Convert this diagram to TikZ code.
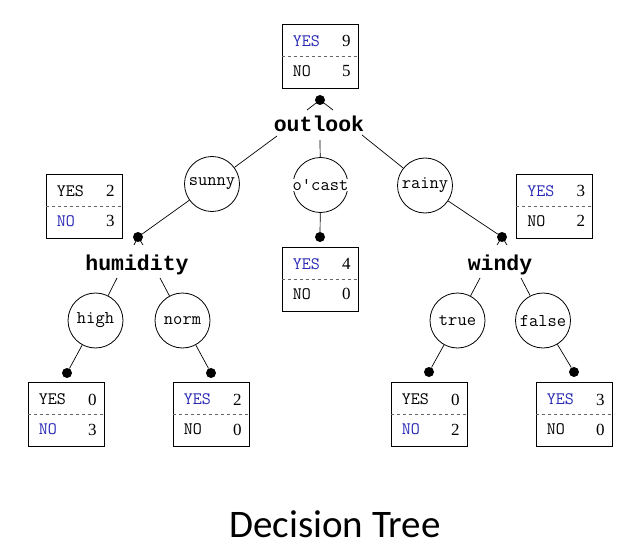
\documentclass[tikz,border=0pt]{standalone}
\usepackage{fontspec}
\setmainfont{Liberation Serif}
\newfontfamily\numfont{Liberation Serif}
\newfontfamily\titlefont{Carlito}
\newfontfamily\attrfont{Liberation Mono}
\usetikzlibrary{calc}
\definecolor{yesblue}{RGB}{40,40,180}
\tikzset{
 leaf/.style={draw, line width=0.8pt, minimum width=76pt, minimum height=64pt, inner sep=0},
 divider/.style={dashed, black!60, line width=0.6pt},
 rowtext/.style={font=\ttfamily\fontsize{17.5}{18}\selectfont, inner sep=0, anchor=west},
 numtext/.style={font=\numfont\fontsize{17}{18}\selectfont, inner sep=0},
 cnode/.style={draw, circle, minimum size=55pt, inner sep=0, line width=0.8pt},
 clabel/.style={font=\ttfamily\fontsize{18}{19}\selectfont, fill=white, inner sep=0.5pt},
 attr/.style={font=\attrfont\bfseries\fontsize{21.5}{22}\selectfont, inner sep=0, anchor=base},
 dotn/.style={circle, fill=black, minimum size=10pt, inner sep=0},
 edge/.style={line width=0.7pt},
}
\newcommand\leafbox[7]{%
 \node[leaf] (#1) at (#2,#3) {};
 \draw[divider] (#1.west) -- (#1.east);
 \node[rowtext, text=#4] (#1-yes) at ($(#1.west)+(11,-15)$) {YES};
 \node[numtext] (#1-yn) at ($(#1.east)+(-12,-15)$) {#5};
 \node[rowtext, text=#6] (#1-no) at ($(#1.west)+(11,15)$) {NO};
 \node[numtext] (#1-nn) at ($(#1.east)+(-12,15)$) {#7};
}
\begin{document}
\begin{tikzpicture}[x=1pt, y=-1pt]
\useasboundingbox (0,0) rectangle (642,556);
% leaf boxes
\leafbox{top}{320}{56}{yesblue}{9}{black}{5}
\leafbox{lsun}{84}{206}{black}{2}{yesblue}{3}
\leafbox{loc}{320}{279}{yesblue}{4}{black}{0}
\leafbox{lrain}{554.5}{206}{yesblue}{3}{black}{2}
\leafbox{lhigh}{66}{414.5}{black}{0}{yesblue}{3}
\leafbox{lnorm}{211}{414.5}{yesblue}{2}{black}{0}
\leafbox{ltrue}{429}{414.5}{black}{0}{yesblue}{2}
\leafbox{lfalse}{574}{414.5}{yesblue}{3}{black}{0}
% attribute names
\node[attr] (outlook) at (319,132) {outlook};
\node[attr] (humidity) at (137,270) {humidity};
\node[attr] (windy) at (500,270) {windy};
% value circles
\node[cnode] (sunny) at (212,184) {};
\node[clabel] at (sunny) {sunny};
\node[cnode] (ocast) at (320.5,185) {};
\node[clabel] at (ocast) {o'cast};
\node[cnode] (rainy) at (425,185.5) {};
\node[clabel] at (rainy) {rainy};
\node[cnode] (high) at (95.5,320.5) {};
\node[clabel] at (high) {high};
\node[cnode] (norm) at (182.5,320.5) {};
\node[clabel] at (norm) {norm};
\node[cnode] (true) at (457.5,320.5) {};
\node[clabel] at (true) {true};
\node[cnode] (false) at (543,320.5) {};
\node[clabel] at (false) {false};
% dots
\node[dotn] (d0) at (320,100) {};
\node[dotn] (dhum) at (138,237) {};
\node[dotn] (dwin) at (502,237) {};
\node[dotn] (doc) at (320,237) {};
\node[dotn] (dhigh) at (67,373) {};
\node[dotn] (dnorm) at (211,373) {};
\node[dotn] (dtrue) at (429,372) {};
\node[dotn] (dfalse) at (574,372) {};
% tick legs
\coordinate (t0l) at (307,110); \coordinate (t0r) at (333,110);
\coordinate (thl) at (134,245); \coordinate (thr) at (143,245);
\coordinate (twl) at (497,245); \coordinate (twr) at (507,245);
\draw[edge] (d0.center) -- (t0l) (d0.center) -- (t0r);
\draw[edge] (dhum.center) -- (thl) (dhum.center) -- (thr);
\draw[edge] (dwin.center) -- (twl) (dwin.center) -- (twr);
% connector start points
\coordinate (ol) at (277,136);
\coordinate (om) at (320,140);
\coordinate (or) at (362,135);
\coordinate (hl) at (117,278);
\coordinate (hr) at (160,278);
\coordinate (wl) at (480,278);
\coordinate (wr) at (521,278);
% connectors
\draw[edge] (ol) -- (sunny);
\draw[edge] (om) -- (ocast);
\draw[edge] (or) -- (rainy);
\draw[edge] (dhum) -- (sunny);
\draw[edge] (dwin) -- (rainy);
\draw[edge] (ocast) -- (doc);
\draw[edge] (hl) -- (high);
\draw[edge] (hr) -- (norm);
\draw[edge] (wl) -- (true);
\draw[edge] (wr) -- (false);
\draw[edge] (high) -- (dhigh);
\draw[edge] (norm) -- (dnorm);
\draw[edge] (true) -- (dtrue);
\draw[edge] (false) -- (dfalse);
% title
\node[font=\titlefont\fontsize{39}{42}\selectfont, inner sep=0] (title) at (335,524) {Decision Tree};
\end{tikzpicture}
\end{document}
